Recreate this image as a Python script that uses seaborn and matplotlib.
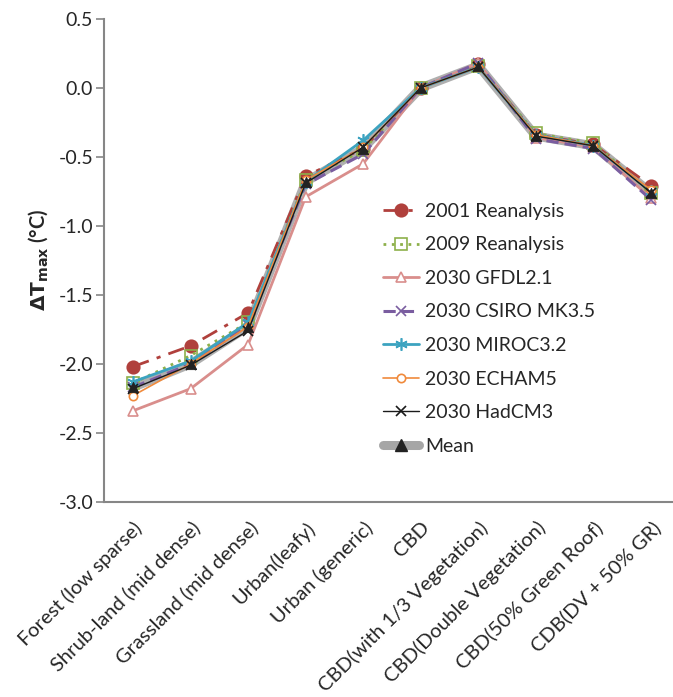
import numpy as np
import pandas as pd
import matplotlib
matplotlib.use("Agg")
import matplotlib.pyplot as plt
import seaborn as sns
from matplotlib.lines import Line2D

categories = [
    "Forest (low sparse)", "Shrub-land (mid dense)", "Grassland (mid dense)",
    "Urban(leafy)", "Urban (generic)", "CBD", "CBD(with 1/3 Vegetation)",
    "CBD(Double Vegetation)", "CBD(50% Green Roof)", "CDB(DV + 50% GR)",
]

reanalysis_2001 = [-2.02, -1.87, -1.63, -0.64, -0.44, 0.00, 0.17, -0.34, -0.41, -0.71]
reanalysis_2009 = [-2.14, -1.94, -1.70, -0.67, -0.45, 0.00, 0.16, -0.33, -0.40, -0.76]
gfdl_2030 = [-2.34, -2.18, -1.86, -0.79, -0.55, 0.00, 0.18, -0.36, -0.43, -0.80]
csiro_2030 = [-2.17, -2.00, -1.72, -0.70, -0.48, 0.00, 0.18, -0.37, -0.44, -0.81]
miroc_2030 = [-2.13, -1.98, -1.70, -0.68, -0.38, 0.00, 0.15, -0.34, -0.42, -0.75]
echam_2030 = [-2.23, -2.00, -1.73, -0.67, -0.43, 0.00, 0.15, -0.34, -0.42, -0.74]
hadcm_2030 = [-2.18, -2.01, -1.76, -0.69, -0.43, 0.00, 0.15, -0.35, -0.42, -0.76]
mean_all = [-2.17, -2.00, -1.73, -0.68, -0.44, 0.00, 0.16, -0.35, -0.42, -0.76]

series_names = [
    "2001 Reanalysis", "2009 Reanalysis", "2030 GFDL2.1", "2030 CSIRO MK3.5",
    "2030 MIROC3.2", "2030 ECHAM5", "2030 HadCM3",
]
series_values = [reanalysis_2001, reanalysis_2009, gfdl_2030, csiro_2030,
                 miroc_2030, echam_2030, hadcm_2030]

styles = {
    "2001 Reanalysis": dict(color="#B0403C", ls=(0, (6, 3, 1.5, 3)), lw=2.0,
                            marker="o", ms=9, mfc="#B0403C", mec="#B0403C"),
    "2009 Reanalysis": dict(color="#8DB04A", ls=(0, (1, 2)), lw=2.0,
                            marker="s", ms=8, mfc="none", mec="#8DB04A"),
    "2030 GFDL2.1": dict(color="#D98E8C", ls="-", lw=2.0,
                         marker="^", ms=7, mfc="white", mec="#D98E8C"),
    "2030 CSIRO MK3.5": dict(color="#7A5DA0", ls=(0, (4, 2)), lw=2.2,
                             marker="x", ms=7, mfc="none", mec="#7A5DA0"),
    "2030 MIROC3.2": dict(color="#3CA3C0", ls="-", lw=2.0,
                          marker=(6, 2, 0), ms=9, mfc="none", mec="#3CA3C0"),
    "2030 ECHAM5": dict(color="#F08A3C", ls="-", lw=1.2,
                        marker="o", ms=6, mfc="white", mec="#F08A3C"),
    "2030 HadCM3": dict(color="#1A1A1A", ls="-", lw=1.0,
                        marker="x", ms=7, mfc="none", mec="#1A1A1A"),
}

sns.set_style("white")
plt.rcParams["font.family"] = ["Lato", "DejaVu Sans"]

fig = plt.figure(figsize=(6.73, 6.97), dpi=100)
ax = fig.add_axes([0.155, 0.280, 0.855, 0.693])

x = np.arange(len(categories))

# ensemble mean: broad grey band with black triangles
df_mean = pd.DataFrame({"x": x, "y": mean_all})
sns.lineplot(data=df_mean, x="x", y="y", ax=ax, sort=False, color="#A6A6A6",
             lw=6.5, alpha=0.9, zorder=2)

for name, vals in zip(series_names, series_values):
    st = styles[name]
    df = pd.DataFrame({"x": x, "y": vals})
    sns.lineplot(data=df, x="x", y="y", ax=ax, sort=False, color=st["color"],
                 linestyle=st["ls"], lw=st["lw"], marker=st["marker"],
                 markersize=st["ms"], markerfacecolor=st["mfc"],
                 markeredgecolor=st["mec"], markeredgewidth=1.2, zorder=3)

sns.scatterplot(data=df_mean, x="x", y="y", ax=ax, marker="^", s=55,
                color="#222222", edgecolor="#222222", zorder=4)

ax.set_xlim(-0.5, len(categories) - 0.5)
ax.set_ylim(-3.0, 0.5)
ax.set_yticks(np.arange(-3.0, 0.51, 0.5))
ax.set_yticklabels([f"{v:.1f}" for v in np.arange(-3.0, 0.51, 0.5)], fontsize=14)
ax.set_xticks(x)
ax.set_xticklabels(categories, rotation=45, ha="right", rotation_mode="anchor",
                   fontsize=14.5)
ax.set_xticks(np.arange(-0.5, len(categories), 1.0), minor=True)
ax.tick_params(axis="x", which="major", length=0, pad=12)
ax.tick_params(axis="x", which="minor", length=6, color="#868686", width=1.2,
               direction="out")
ax.tick_params(axis="y", length=6, color="#868686", width=1.2, direction="out",
               left=True, pad=2)
ax.set_xlabel("")
ax.set_ylabel(r"$\mathbf{\Delta T_{max}}$ (°C)", fontsize=14.5, fontweight="bold",
              labelpad=6)

for side in ["top", "right"]:
    ax.spines[side].set_visible(False)
for side in ["left", "bottom"]:
    ax.spines[side].set_color("#868686")
    ax.spines[side].set_linewidth(1.5)

handles = []
for name in series_names:
    st = styles[name]
    handles.append(Line2D([], [], color=st["color"], linestyle=st["ls"],
                          lw=st["lw"], marker=st["marker"], markersize=st["ms"],
                          markerfacecolor=st["mfc"], markeredgecolor=st["mec"],
                          markeredgewidth=1.2))
handles.append(Line2D([], [], color="#A6A6A6", lw=6.5, marker="^",
                      markersize=8, markerfacecolor="#222222",
                      markeredgecolor="#222222", solid_capstyle="round"))
ax.legend(handles, series_names + ["Mean"], loc="upper left",
          bbox_to_anchor=(0.47, 0.635), frameon=False, fontsize=14,
          handlelength=1.9, handletextpad=0.3, labelspacing=0.85,
          borderaxespad=0)

fig.savefig("out.png", dpi=100)
